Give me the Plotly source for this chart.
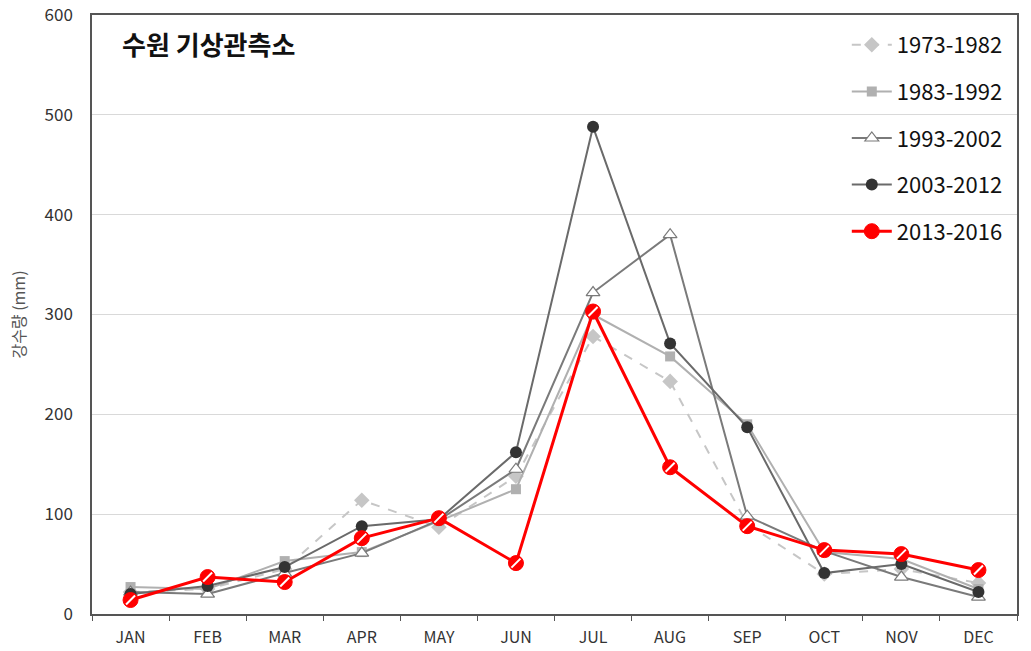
import plotly.graph_objects as go

months = ["JAN", "FEB", "MAR", "APR", "MAY", "JUN", "JUL", "AUG", "SEP", "OCT", "NOV", "DEC"]
y_ticks = [0, 100, 200, 300, 400, 500, 600]

s1973 = [22, 25, 45, 114, 87, 138, 278, 233, 90, 40, 45, 31]
s1983 = [27, 25, 53, 62, 93, 125, 300, 258, 190, 62, 55, 25]
s1993 = [22, 20, 41, 61, 94, 145, 322, 380, 98, 63, 37, 17]
s2003 = [20, 28, 47, 88, 95, 162, 488, 271, 187, 41, 50, 22]
s2013 = [14, 37, 32, 76, 96, 51, 303, 147, 88, 64, 60, 44]

FONT = "Noto Sans CJK KR, Open Sans, sans-serif"

fig = go.Figure()
fig.add_trace(go.Scatter(x=months, y=s1973, name="1973-1982", mode="lines+markers", legendgroup="a",
                         line=dict(color="#c6c6c6", width=2, dash="dash"),
                         marker=dict(symbol="diamond", size=12, color="#c6c6c6")))
fig.add_trace(go.Scatter(x=months, y=s1983, name="1983-1992", mode="lines+markers", legendgroup="b",
                         line=dict(color="#b0b0b0", width=2),
                         marker=dict(symbol="square", size=10, color="#b0b0b0")))
fig.add_trace(go.Scatter(x=months, y=s1993, name="1993-2002", mode="lines+markers", legendgroup="c",
                         line=dict(color="#7a7a7a", width=2),
                         marker=dict(symbol="triangle-up", size=12, color="white",
                                     line=dict(color="#7a7a7a", width=1.2))))
fig.add_trace(go.Scatter(x=months, y=s2003, name="2003-2012", mode="lines+markers", legendgroup="d",
                         line=dict(color="#6a6a6a", width=2),
                         marker=dict(symbol="circle", size=12, color="#333333")))
fig.add_trace(go.Scatter(x=months, y=s2013, name="2013-2016", mode="lines+markers", legendgroup="e",
                         line=dict(color="#ff0000", width=3),
                         marker=dict(symbol="circle", size=15, color="#ff0000",
                                     line=dict(color="#ff0000", width=1))))
fig.add_trace(go.Scatter(x=months, y=s2013, name="2013-2016 hatch", mode="markers", legendgroup="e",
                         showlegend=False, hoverinfo="skip",
                         marker=dict(symbol="line-ne", size=9, color="white",
                                     line=dict(color="white", width=2))))

fig.add_annotation(text="<b>수원 기상관측소</b>", xref="paper", yref="paper",
                   x=0.030, y=0.952, xanchor="left", yanchor="middle", showarrow=False,
                   font=dict(family=FONT, size=26, color="#111111"))

fig.update_layout(
    width=1031, height=651,
    margin=dict(l=92, r=14, t=15, b=37, autoexpand=False),
    paper_bgcolor="white", plot_bgcolor="white",
    font=dict(family=FONT, color="#333333"),
    showlegend=True,
    legend=dict(x=0.816, y=0.985, xanchor="left", yanchor="top",
                bgcolor="rgba(0,0,0,0)", font=dict(family=FONT, size=22, color="#111111"),
                tracegroupgap=15, itemwidth=40, traceorder="grouped"),
    xaxis=dict(type="category", categoryorder="array", categoryarray=months,
               showgrid=False, showline=True, linecolor="#555555", linewidth=1.5,
               mirror=True, ticks="outside", tickson="boundaries", ticklen=5,
               tickcolor="#555555", ticklabelstandoff=8,
               tickfont=dict(family=FONT, size=16, color="#333333"),
               range=[-0.5, 11.5], automargin=False),
    yaxis=dict(range=[0, 600], tickvals=y_ticks, showgrid=True, gridcolor="#d9d9d9",
               gridwidth=1, showline=True, linecolor="#555555", linewidth=1.5, mirror=True,
               ticks="", ticklabelstandoff=14, ticklabeloverflow="allow",
               tickfont=dict(family=FONT, size=17, color="#333333"),
               title=dict(text="강수량 (mm)", font=dict(family=FONT, size=16, color="#555555"),
                          standoff=15),
               zeroline=False, automargin=False),
)

fig.write_html("out.html", config={"displayModeBar": False},
               post_script="document.body.style.margin='0';")
